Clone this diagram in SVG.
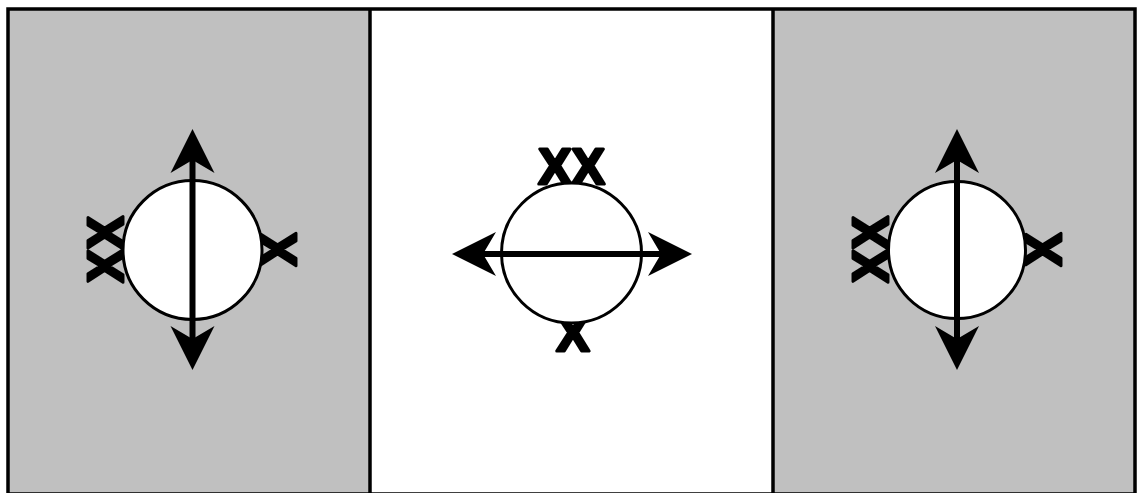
<svg xmlns="http://www.w3.org/2000/svg" width="1137" height="493" viewBox="0 0 1137 493">
<style>
.panel-gray{fill:#c0c0c0}
.panel-white{fill:#ffffff}
.frame{fill:none;stroke:#000;stroke-width:3.5}
.div{stroke:#000;stroke-width:3.5}
.ball{fill:#fff;stroke:#000;stroke-width:3}
.mark{font-family:"Liberation Sans",Arial,sans-serif;font-weight:bold;font-size:50px;fill:#000;stroke:#000;stroke-width:3;stroke-linejoin:round;text-anchor:middle}
.arrow{stroke:#000;stroke-width:6;fill:none;marker-start:url(#head);marker-end:url(#head)}
</style>
<defs>
<marker id="head" markerUnits="userSpaceOnUse" viewBox="-14 -23 46 46" refX="0" refY="0" markerWidth="46" markerHeight="46" orient="auto-start-reverse">
<path d="M31,0 L-13,-22 L0,0 L-13,22 Z" fill="#000"/>
</marker>
</defs>
<g id="background">
<rect class="panel-gray" x="8" y="9" width="362" height="490"/>
<rect class="panel-white" x="370" y="9" width="403" height="490"/>
<rect class="panel-gray" x="773" y="9" width="362" height="490"/>
</g>
<g id="node-left">
<text class="mark" transform="translate(105.5,249.5) rotate(-90)" x="0" y="17.9">XX</text>
<text class="mark" transform="translate(278.5,249.5) rotate(-90)" x="0" y="17.9">X</text>
<circle class="ball" cx="192.5" cy="250" r="69.5"/>
</g>
<g id="node-middle">
<text class="mark" x="571.5" y="183.5">XX</text>
<text class="mark" x="573" y="350.5">X</text>
<circle class="ball" cx="571.5" cy="253" r="70"/>
</g>
<g id="node-right">
<text class="mark" transform="translate(870.5,249.5) rotate(-90)" x="0" y="17.9">XX</text>
<text class="mark" transform="translate(1043.5,249.5) rotate(-90)" x="0" y="17.9">X</text>
<circle class="ball" cx="957" cy="250" r="68.5"/>
</g>
<g id="connectors">
<line class="arrow" x1="192.5" y1="160" x2="192.5" y2="339"/>
<line class="arrow" x1="483" y1="254" x2="661" y2="254"/>
<line class="arrow" x1="957" y1="160" x2="957" y2="339"/>
</g>
<g id="frame">
<rect class="frame" x="8" y="9" width="1127" height="485"/>
<line class="div" x1="370" y1="9" x2="370" y2="493"/>
<line class="div" x1="773" y1="9" x2="773" y2="493"/>
</g>
</svg>
